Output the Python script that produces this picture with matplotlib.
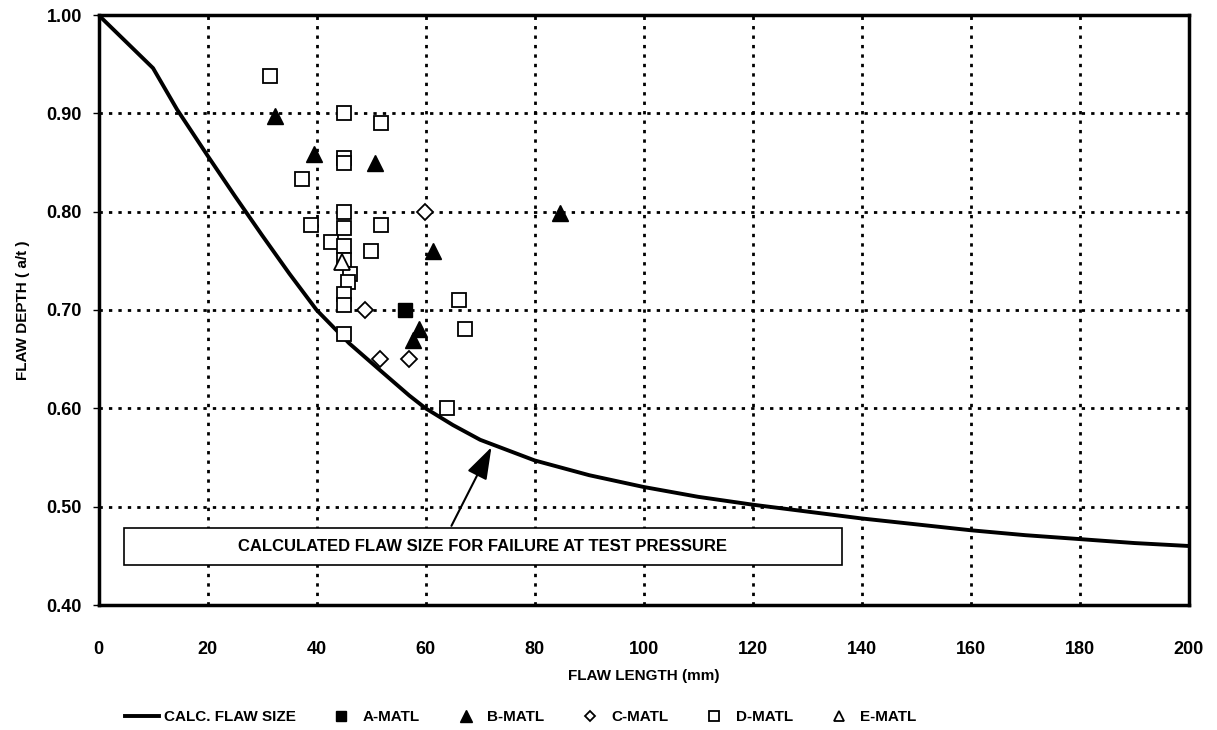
import matplotlib
matplotlib.use("Agg")
import matplotlib.pyplot as plt
from matplotlib.patches import Rectangle
from matplotlib import font_manager

# calculated failure curve
curve_x = [0, 5, 10, 14.4, 20, 25, 30, 35, 40, 46, 52, 57, 60, 65, 70, 80, 90, 100, 110, 120,
           130, 140, 150, 160, 170, 180, 190, 200]
curve_y = [1.0, 0.973, 0.946, 0.904, 0.857, 0.816, 0.776, 0.737, 0.700, 0.666, 0.637, 0.613,
           0.600, 0.583, 0.568, 0.547, 0.532, 0.520, 0.510, 0.502, 0.495, 0.488, 0.482, 0.476,
           0.471, 0.467, 0.463, 0.460]

# test points
a_x = [56.2]
a_y = [0.70]
b_x = [32.4, 39.5, 50.8, 84.6, 61.4, 58.8, 57.6]
b_y = [0.897, 0.859, 0.849, 0.799, 0.760, 0.681, 0.670]
c_x = [59.9, 48.9, 51.6, 56.9]
c_y = [0.80, 0.70, 0.65, 0.65]
d_x = [31.5, 45.0, 51.9, 45.0, 45.0, 37.3, 45.0, 39.0, 51.9, 45.0, 42.7, 45.0, 49.9, 45.0,
       46.2, 45.8, 45.0, 45.0, 66.1, 67.3, 45.0, 64.0]
d_y = [0.938, 0.900, 0.890, 0.855, 0.849, 0.833, 0.800, 0.786, 0.786, 0.783, 0.769, 0.765,
       0.760, 0.751, 0.737, 0.728, 0.716, 0.705, 0.710, 0.681, 0.676, 0.600]
e_x = [44.6]
e_y = [0.749]

x_ticks = list(range(0, 201, 20))
y_ticks = [0.40, 0.50, 0.60, 0.70, 0.80, 0.90, 1.00]

names = set(f.name for f in font_manager.fontManager.ttflist)
narrow = "Liberation Sans Narrow" if "Liberation Sans Narrow" in names else "Liberation Sans"
plt.rcParams['font.family'] = ['Liberation Sans', 'DejaVu Sans']

fig = plt.figure(figsize=(12.17, 7.30), dpi=100)
ax = fig.add_axes([98.5 / 1217, 1 - 605 / 730, (1189 - 98.5) / 1217, (605 - 15) / 730])

ax.plot(curve_x, curve_y, color='black', lw=2.8, label='CALC. FLAW SIZE', zorder=3,
        solid_joinstyle='round')
ax.plot(a_x, a_y, 's', ms=10.5, mfc='black', mec='black', ls='none', label='A-MATL', zorder=4)
ax.plot(b_x, b_y, '^', ms=11.5, mfc='black', mec='black', ls='none', label='B-MATL', zorder=4)
ax.plot(c_x, c_y, 'D', ms=8, mfc='white', mec='black', mew=1.3, ls='none', label='C-MATL', zorder=4)
ax.plot(d_x, d_y, 's', ms=10.5, mfc='white', mec='black', mew=1.3, ls='none', label='D-MATL', zorder=4)
ax.plot(e_x, e_y, '^', ms=11, mfc='white', mec='black', mew=1.3, ls='none', label='E-MATL', zorder=5)

ax.set_xlim(0, 200)
ax.set_ylim(0.40, 1.00)
ax.set_xticks(x_ticks)
ax.set_yticks(y_ticks)
ax.set_xticklabels([str(v) for v in x_ticks], fontsize=13, fontweight='bold')
ax.set_yticklabels(['%.2f' % v for v in y_ticks], fontsize=13, fontweight='bold')
ax.tick_params(axis='y', direction='out', length=4, width=1, pad=8)
ax.tick_params(axis='x', direction='out', length=0, pad=26)
ax.grid(True, color='black', ls=(0, (1.2, 2.2)), lw=2)
ax.set_axisbelow(True)
for s in ax.spines.values():
    s.set_linewidth(2.5)

ax.set_xlabel('FLAW LENGTH (mm)', fontsize=11, fontweight='bold', labelpad=8)
ax.set_ylabel('FLAW DEPTH ( a/t )', fontsize=11, fontweight='bold', labelpad=12)

# annotation box
ax.add_patch(Rectangle((4.6, 0.441), 131.7, 0.037, facecolor='white', edgecolor='black',
                       lw=1.2, zorder=6))
ax.text(70.5, 0.4595, 'CALCULATED FLAW SIZE FOR FAILURE AT TEST PRESSURE', ha='center', va='center',
        fontsize=12, fontweight='bold', family=[narrow, 'DejaVu Sans'], zorder=7)
ax.annotate('', xy=(72.3, 0.563), xytext=(64.5, 0.478),
            arrowprops=dict(arrowstyle='-|>,head_length=0.9,head_width=0.3', color='black',
                            lw=1.5, mutation_scale=22), zorder=6)

fig.legend(loc='center', bbox_to_anchor=(0.428, 1 - 717 / 730), ncol=6, frameon=False,
           handlelength=2.2, handletextpad=0.3, columnspacing=1.9,
           prop=dict(family=[narrow, 'DejaVu Sans'], weight='bold', size=11), markerscale=0.7)

fig.savefig('out.png', dpi=100)
